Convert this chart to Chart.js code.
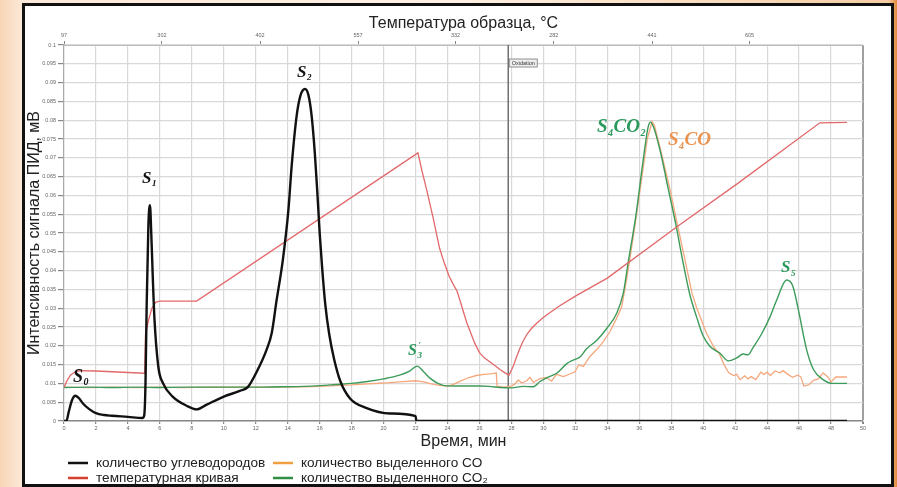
<!DOCTYPE html>
<html>
<head>
<meta charset="utf-8">
<script src="https://cdn.jsdelivr.net/npm/chart.js@4.4.0/dist/chart.umd.min.js"></script>
<style>
    html, body { margin: 0; padding: 0; }
    body {
        width: 897px; height: 487px; overflow: hidden; position: relative;
        background: linear-gradient(90deg, #f7d6b6 0%, #fce9d8 2.5%, #fdf0e4 50%, #f5cda4 99%, #e08a3c 100%);
    }
    #panel {
        position: absolute; left: 22px; top: 3px; width: 872px; height: 484px;
        box-sizing: border-box; border: 3px solid #111; background: #fff;
    }
    #chart { position: absolute; left: 0; top: 0; }
</style>
</head>
<body>
<div id="panel"></div>
<canvas id="chart" width="897" height="487"></canvas>
<script>
// hydrocarbons (FID signal), mV vs time, min
const hcTime = [0, 0.15, 0.3, 0.5, 0.7, 0.9, 1.2, 1.6, 2.0, 2.5,
    3.0, 4.0, 4.9, 5.02, 5.1, 5.17, 5.28, 5.38, 5.46, 5.55,
    5.65, 5.9, 6.2, 6.8, 7.7, 8.3, 8.9, 10.0, 11.0, 11.5,
    12.06, 12.68, 13.0, 13.3, 13.7, 14.04, 14.25, 14.56, 14.8, 15.08,
    15.3, 15.5, 15.7, 15.85, 16.0, 16.15, 16.35, 16.6, 16.9, 17.3,
    17.9, 18.9, 20.4, 22.0, 22.05, 49];
const hcValue = [0, 0, 0.0025, 0.0055, 0.0067, 0.0062, 0.0046, 0.0031, 0.0021, 0.0016,
    0.0014, 0.0011, 0.0008, 0.0015, 0.010, 0.030, 0.052, 0.0574, 0.050, 0.039,
    0.028, 0.0145, 0.010, 0.0065, 0.004, 0.0031, 0.0043, 0.0065, 0.008, 0.009,
    0.0131, 0.019, 0.0234, 0.032, 0.043, 0.056, 0.068, 0.0812, 0.0866, 0.0883,
    0.0866, 0.081, 0.071, 0.061, 0.050, 0.041, 0.031, 0.023, 0.0165, 0.0105,
    0.006, 0.0035, 0.002, 0.0013, 0, 0];

// temperature curve, drawn on the mV scale
const tempTime = [0, 0.2, 0.4, 0.7, 1.0, 2.0, 3.0, 4.0, 5.05, 5.1,
    5.3, 5.5, 5.75, 6.0, 8.3, 22.15, 22.4, 22.7, 23.1, 23.5,
    23.8, 24.1, 24.4, 24.6, 24.8, 25.0, 25.2, 25.4, 25.7, 26.0,
    26.3, 26.66, 27.0, 27.28, 27.6, 27.85, 28.12, 28.3, 28.5, 28.7,
    28.96, 29.25, 29.58, 29.9, 30.2, 31.0, 32.0, 34.0, 38.4, 42.1,
    47.3, 49.0];
const tempValue = [0.009, 0.0108, 0.0122, 0.0131, 0.0134, 0.0133, 0.0131, 0.0129, 0.0127, 0.023,
    0.027, 0.030, 0.0316, 0.0319, 0.0319, 0.0713, 0.0665, 0.0614, 0.054, 0.046,
    0.042, 0.0385, 0.036, 0.0345, 0.0318, 0.029, 0.0262, 0.024, 0.0207, 0.0182,
    0.0168, 0.0157, 0.0146, 0.0137, 0.0128, 0.0122, 0.0146, 0.0168, 0.019, 0.021,
    0.023, 0.0246, 0.026, 0.0272, 0.0282, 0.0306, 0.0332, 0.038, 0.0518, 0.063,
    0.0793, 0.0794];

// CO2
const co2Time = [0, 1.5, 3, 4.5, 6, 7.5, 9, 10.5, 12, 13.5,
    15, 16, 17, 18, 19, 20, 21, 21.6, 22.1, 22.5,
    22.9, 23.4, 23.8, 24.5, 25.2, 26.0, 26.6, 27.28, 28.0, 28.75,
    29.37, 29.79, 30.2, 30.83, 31.45, 31.87, 32.29, 32.7, 33.33, 33.96,
    34.58, 35.0, 35.3, 35.8, 36.2, 36.56, 36.7, 36.88, 37.3, 37.8,
    38.3, 38.7, 39.17, 39.6, 40.0, 40.43, 41.05, 41.57, 42.1, 42.5,
    42.8, 43.13, 43.66, 44.18, 44.6, 45.22, 45.6, 45.95, 46.47, 46.9,
    47.5, 48.1, 49.0];
const co2Value = [0.0089, 0.009, 0.0089, 0.009, 0.0089, 0.009, 0.009, 0.009, 0.009, 0.0091,
    0.0092, 0.0094, 0.0097, 0.010, 0.0105, 0.0112, 0.0122, 0.0132, 0.0146, 0.0131,
    0.0114, 0.010, 0.0094, 0.0093, 0.0093, 0.0093, 0.0092, 0.0089, 0.0088, 0.0092,
    0.0091, 0.0105, 0.0115, 0.0127, 0.0152, 0.0162, 0.017, 0.0192, 0.0214, 0.0246,
    0.0286, 0.034, 0.042, 0.055, 0.068, 0.0783, 0.0795, 0.0783, 0.072, 0.062,
    0.052, 0.043, 0.0335, 0.0275, 0.0226, 0.0198, 0.018, 0.016, 0.0168, 0.0178,
    0.0176, 0.0196, 0.0232, 0.0277, 0.0322, 0.0375, 0.036, 0.0297, 0.019, 0.0137,
    0.011, 0.010, 0.010];

// CO
const coTime = [0, 1.5, 3, 4.5, 6, 7.5, 9, 10.5, 12, 13.5,
    15, 16, 17, 18, 19, 20, 21, 22, 22.5, 23,
    23.5, 24, 24.3, 24.8, 25.3, 25.8, 26.3, 26.8, 27.05, 27.1,
    27.5, 28.0, 28.2, 28.43, 28.64, 28.96, 29.16, 29.37, 29.79, 30.2,
    30.5, 30.83, 31.25, 31.66, 31.98, 32.2, 32.5, 32.9, 33.33, 33.75,
    34.17, 34.58, 34.9, 35.2, 35.4, 35.8, 36.2, 36.5, 36.8, 36.95,
    37.4, 37.9, 38.5, 39.0, 39.3, 39.6, 40.2, 40.7, 41.0, 41.3,
    41.6, 41.9, 42.1, 42.3, 42.6, 42.8, 43.0, 43.3, 43.6, 43.8,
    44.0, 44.2, 44.5, 44.8, 45.0, 45.3, 45.6, 45.9, 46.1, 46.3,
    46.6, 46.9, 47.2, 47.5, 47.8, 48.0, 48.3, 49.0];
const coValue = [0.009, 0.0089, 0.009, 0.0089, 0.009, 0.0089, 0.009, 0.009, 0.009, 0.009,
    0.0091, 0.0092, 0.0094, 0.0096, 0.0099, 0.0101, 0.0104, 0.0107, 0.0104, 0.0099,
    0.0095, 0.0093, 0.0096, 0.0106, 0.0115, 0.0121, 0.0124, 0.0126, 0.0128, 0.0093,
    0.009, 0.0093, 0.0098, 0.0109, 0.0101, 0.0107, 0.0116, 0.0103, 0.0113, 0.0116,
    0.0106, 0.0124, 0.0118, 0.0125, 0.0131, 0.0149, 0.0145, 0.0171, 0.019, 0.0211,
    0.0238, 0.0273, 0.0304, 0.0375, 0.0428, 0.054, 0.066, 0.075, 0.0796, 0.0786,
    0.071, 0.062, 0.050, 0.040, 0.034, 0.030, 0.0234, 0.0194, 0.018, 0.015,
    0.0128, 0.0121, 0.0124, 0.011, 0.012, 0.0112, 0.0118, 0.011, 0.013, 0.0124,
    0.013, 0.0121, 0.0133, 0.0128, 0.0134, 0.0124, 0.0116, 0.0122, 0.0118, 0.0093,
    0.0096, 0.0108, 0.0112, 0.0128, 0.0117, 0.0104, 0.0117, 0.0117];

// top axis: sample temperature, °C
const topTickPos = [0, 6.13, 12.27, 18.4, 24.5, 30.65, 36.8, 42.9];
const topTickLabels = ['97', '302', '402', '557', '332', '282', '441', '605'];

const oxidationTime = 27.8;

const FONT = '"Liberation Sans", Arial, sans-serif';
const SERIF = '"Liberation Serif", "Times New Roman", serif';

// peak names: [text, kind] n = normal, b = subscript, p = prime over subscript
const peakLabels = [
    { parts: [['S', 'n'], ['0', 'b']], x: 0.56, y: 0.0104, color: '#111', size: 18 },
    { parts: [['S', 'n'], ['1', 'b']], x: 4.88, y: 0.0633, color: '#111', size: 17 },
    { parts: [['S', 'n'], ['2', 'b']], x: 14.58, y: 0.0915, color: '#111', size: 17 },
    { parts: [['S', 'n'], ['3', 'b'], ['\u2032', 'p']], x: 21.53, y: 0.0176, color: '#2a9a5c', size: 16 },
    { parts: [['S', 'n'], ['4', 'b'], ['CO', 'n'], ['2', 'b']], x: 33.35, y: 0.0769, color: '#2a9a5c', size: 19 },
    { parts: [['S', 'n'], ['4', 'b'], ['CO', 'n']], x: 37.8, y: 0.0734, color: '#ea9350', size: 19 },
    { parts: [['S', 'n'], ['5', 'b']], x: 44.87, y: 0.0396, color: '#2a9a5c', size: 17 },
];

const legendItems = [
    ['количество углеводородов', '#111'],
    ['количество выделенного CO', '#f0a040'],
    ['температурная кривая', '#d6402e'],
    ['количество выделенного CO\u2082', '#2f8f45'],
];

function toPoints(ts, vs) {
    return ts.map((t, i) => ({ x: t, y: vs[i] }));
}

function drawParts(ctx, parts, px, py, size, color) {
    let cx = px;
    let subX = px;
    ctx.fillStyle = color;
    ctx.textBaseline = 'alphabetic';
    ctx.textAlign = 'left';
    parts.forEach(([txt, kind]) => {
        if (kind === 'n') {
            ctx.font = `italic bold ${size}px ${SERIF}`;
            ctx.fillText(txt, cx, py);
            cx += ctx.measureText(txt).width;
        } else if (kind === 'b') {
            ctx.font = `italic bold ${Math.round(size * 0.55)}px ${SERIF}`;
            subX = cx;
            ctx.fillText(txt, cx + 0.5, py + size * 0.2);
            cx += ctx.measureText(txt).width + 1;
        } else {
            ctx.font = `italic bold ${Math.round(size * 0.55)}px ${SERIF}`;
            ctx.fillText(txt, subX + 1.5, py - size * 0.4);
        }
    });
}

const overlayPlugin = {
    id: 'overlay',
    beforeDatasetsDraw(chart) {
        const { ctx, chartArea, scales: { x } } = chart;
        const ox = x.getPixelForValue(oxidationTime);
        ctx.save();
        ctx.strokeStyle = '#707070';
        ctx.lineWidth = 1.5;
        ctx.beginPath();
        ctx.moveTo(ox, chartArea.top);
        ctx.lineTo(ox, chartArea.bottom);
        ctx.stroke();
        // "Oxidation" tag
        ctx.fillStyle = '#eeeeee';
        ctx.fillRect(ox + 1, chartArea.top + 14, 28, 8);
        ctx.strokeStyle = '#777';
        ctx.lineWidth = 0.8;
        ctx.strokeRect(ox + 1, chartArea.top + 14, 28, 8);
        ctx.fillStyle = '#333';
        ctx.font = `5.5px ${FONT}`;
        ctx.textBaseline = 'middle';
        ctx.textAlign = 'center';
        ctx.fillText('Oxidation', ox + 15, chartArea.top + 18.3);
        ctx.restore();
    },
    afterDatasetsDraw(chart) {
        const { ctx, scales: { x, y } } = chart;
        ctx.save();
        peakLabels.forEach(l => {
            drawParts(ctx, l.parts, x.getPixelForValue(l.x), y.getPixelForValue(l.y), l.size, l.color);
        });
        ctx.restore();
    },
    afterDraw(chart) {
        const { ctx, chartArea } = chart;
        const colX = [chartArea.left + 4, chartArea.left + 209];
        const rowY = [chartArea.bottom + 42, chartArea.bottom + 57];
        ctx.save();
        ctx.font = `13.6px ${FONT}`;
        ctx.textBaseline = 'middle';
        ctx.textAlign = 'left';
        legendItems.forEach(([text, color], i) => {
            const lx = colX[i % 2];
            const ly = rowY[Math.floor(i / 2)];
            ctx.strokeStyle = color;
            ctx.lineWidth = 2.5;
            ctx.beginPath();
            ctx.moveTo(lx, ly);
            ctx.lineTo(lx + 20, ly);
            ctx.stroke();
            ctx.fillStyle = '#222';
            ctx.fillText(text, lx + 28, ly);
        });
        ctx.restore();
    }
};

const tickFont = { family: FONT, size: 5.5 };
const titleFont = { family: FONT, size: 16 };

new Chart(document.getElementById('chart'), {
    type: 'line',
    data: {
        datasets: [
            {
                label: 'количество углеводородов',
                data: toPoints(hcTime, hcValue),
                borderColor: '#111',
                borderWidth: 2.4,
                cubicInterpolationMode: 'monotone',
            },
            {
                label: 'температурная кривая',
                data: toPoints(tempTime, tempValue),
                borderColor: '#e2686a',
                borderWidth: 1.3,
                tension: 0,
            },
            {
                label: 'количество выделенного CO₂',
                data: toPoints(co2Time, co2Value),
                borderColor: '#3c9b5a',
                borderWidth: 1.4,
                cubicInterpolationMode: 'monotone',
            },
            {
                label: 'количество выделенного CO',
                data: toPoints(coTime, coValue),
                borderColor: '#f5a87e',
                borderWidth: 1.3,
                tension: 0,
            },
        ],
    },
    options: {
        responsive: false,
        animation: false,
        elements: { point: { radius: 0 }, line: { fill: false } },
        layout: { padding: { left: 22, right: 34, top: 3, bottom: 36 } },
        plugins: { legend: { display: false }, tooltip: { enabled: false } },
        scales: {
            x: {
                type: 'linear',
                position: 'bottom',
                min: 0,
                max: 50,
                ticks: { stepSize: 2, autoSkip: false, maxRotation: 0, font: tickFont, color: '#666', padding: 1 },
                grid: {
                    color: ctx => ctx.tick && ctx.tick.value === 50 ? '#a0a0a0' : '#d9d9d9',
                    lineWidth: ctx => ctx.tick && ctx.tick.value === 50 ? 2 : 1.2,
                    tickColor: '#888',
                    tickLength: 3,
                },
                border: { color: '#888', width: 1.5 },
                title: { display: true, text: 'Время, мин', font: titleFont, color: '#222', padding: { top: 0, bottom: 0 } },
                afterFit: s => { s.height = 30; s.paddingLeft = 0; s.paddingRight = 0; },
            },
            x2: {
                type: 'linear',
                position: 'top',
                min: 0,
                max: 50,
                afterBuildTicks: s => { s.ticks = topTickPos.map(v => ({ value: v })); },
                ticks: {
                    autoSkip: false, maxRotation: 0, font: tickFont, color: '#666', padding: 2,
                    callback: (v, i) => topTickLabels[i],
                },
                grid: { drawOnChartArea: false, tickLength: 4, tickColor: '#888' },
                border: { color: '#bbb', width: 1 },
                title: { display: true, text: 'Температура образца, °C', font: titleFont, color: '#222', padding: { top: 11.4, bottom: 0 } },
                afterFit: s => { s.height = 42; s.paddingLeft = 0; s.paddingRight = 0; },
            },
            y: {
                min: 0,
                max: 0.1,
                ticks: {
                    stepSize: 0.005, autoSkip: false, font: tickFont, color: '#666', padding: 2,
                    callback: v => String(+v.toFixed(3)),
                },
                grid: { color: '#d9d9d9', lineWidth: 1.2, tickColor: '#888', tickLength: 6 },
                border: { color: '#aaa', width: 1.2 },
                title: { display: true, text: 'Интенсивность сигнала ПИД, мВ', font: titleFont, color: '#222', padding: { top: 3, bottom: 0 } },
                afterFit: s => { s.width = 42; s.paddingTop = 0; s.paddingBottom = 0; },
            },
        },
    },
    plugins: [overlayPlugin],
});
</script>
</body>
</html>
